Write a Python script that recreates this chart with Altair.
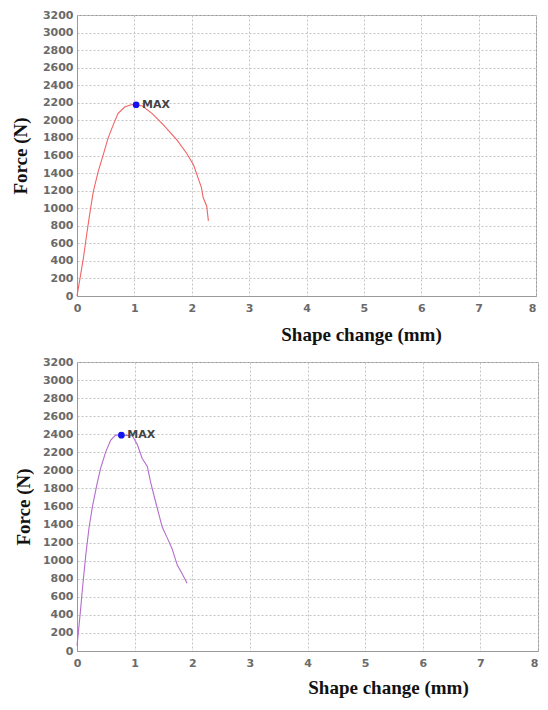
import altair as alt
import pandas as pd

# Top panel curve (Shape change mm, Force N)
top_x = [0, 0.057, 0.114, 0.17, 0.23, 0.286, 0.37, 0.457, 0.54, 0.63, 0.714, 0.83, 0.94, 1.03,
         1.14, 1.31, 1.51, 1.74, 1.91, 2.03, 2.11, 2.17, 2.2, 2.26, 2.29]
top_y = [0, 218, 443, 706, 969, 1194, 1420, 1608, 1795, 1946, 2077, 2152, 2178, 2178,
         2163, 2077, 1946, 1777, 1626, 1495, 1345, 1232, 1119, 1025, 856]
top_max = [1.03, 2178]

# Bottom panel curve
bot_x = [0, 0.023, 0.057, 0.098, 0.155, 0.21, 0.27, 0.345, 0.41, 0.5, 0.586, 0.67, 0.77,
         0.96, 1.05, 1.13, 1.22, 1.28, 1.36, 1.48, 1.56, 1.65, 1.74, 1.82, 1.91]
bot_y = [58, 204, 423, 714, 1078, 1370, 1607, 1843, 2025, 2208, 2335, 2390, 2390,
         2383, 2281, 2135, 2044, 1862, 1661, 1370, 1261, 1133, 951, 860, 750]
bot_max = [0.77, 2390]

x_ticks = list(range(0, 9))
y_ticks = list(range(0, 3201, 200))

LABEL_FONT = "DejaVu Sans"
TITLE_FONT = "Liberation Serif"


def panel(xs, ys, mx, color, w, h, title_x, title_y, ytitle_pad):
    df = pd.DataFrame({"x": xs, "y": ys, "i": list(range(len(xs)))})
    mdf = pd.DataFrame({"x": [mx[0]], "y": [mx[1]], "t": ["MAX"]})
    xenc = alt.X("x:Q", scale=alt.Scale(domain=[0, 8], nice=False),
                 axis=alt.Axis(values=x_ticks, tickCount=len(x_ticks), title="Shape change (mm)",
                               format="d", titleX=title_x, titleY=title_y,
                               titleBaseline="alphabetic", titleAnchor="middle",
                               labelOverlap=False,
                               labelAlign=alt.expr("datum.value >= 8 ? 'right' : 'center'")))
    yenc = alt.Y("y:Q", scale=alt.Scale(domain=[0, 3200], nice=False),
                 axis=alt.Axis(values=y_ticks, tickCount=len(y_ticks), title="Force (N)",
                               format="d", titlePadding=ytitle_pad, labelOverlap=False))
    line = alt.Chart(df).mark_line(color=color, strokeWidth=1.1).encode(
        x=xenc, y=yenc, order="i:Q")
    pt = alt.Chart(mdf).mark_point(filled=True, color="#1414f0", size=45, opacity=1).encode(
        x="x:Q", y="y:Q")
    txt = alt.Chart(mdf).mark_text(align="left", baseline="middle", dx=6, font=LABEL_FONT,
                                   fontWeight="bold", fontSize=11, color="#444").encode(
        x="x:Q", y="y:Q", text="t:N")
    return alt.layer(line, pt, txt).properties(width=w, height=h)


top = panel(top_x, top_y, top_max, "#f06464", 459, 281, 284, 44, 12)
bottom = panel(bot_x, bot_y, bot_max, "#b46ccc", 461, 289, 311, 42, 9)

chart = alt.vconcat(top, bottom, spacing=10).properties(
    padding={"left": 2, "top": 0, "right": 0, "bottom": 0}
).configure_axis(
    grid=True,
    gridColor="#c4c4c4",
    gridDash=[2, 2],
    gridWidth=1,
    domainColor="#999999",
    ticks=False,
    labelFont=LABEL_FONT,
    labelFontWeight="bold",
    labelFontSize=11,
    labelColor="#6a6a6a",
    titleFont=TITLE_FONT,
    titleFontWeight="bold",
    titleFontSize=19,
    titleColor="#111111",
).configure_axisX(
    labelPadding=6,
).configure_axisY(
    labelPadding=4,
).configure_view(
    stroke="#999999",
)

chart.save("out.html", embed_options={"renderer": "svg", "actions": False})
